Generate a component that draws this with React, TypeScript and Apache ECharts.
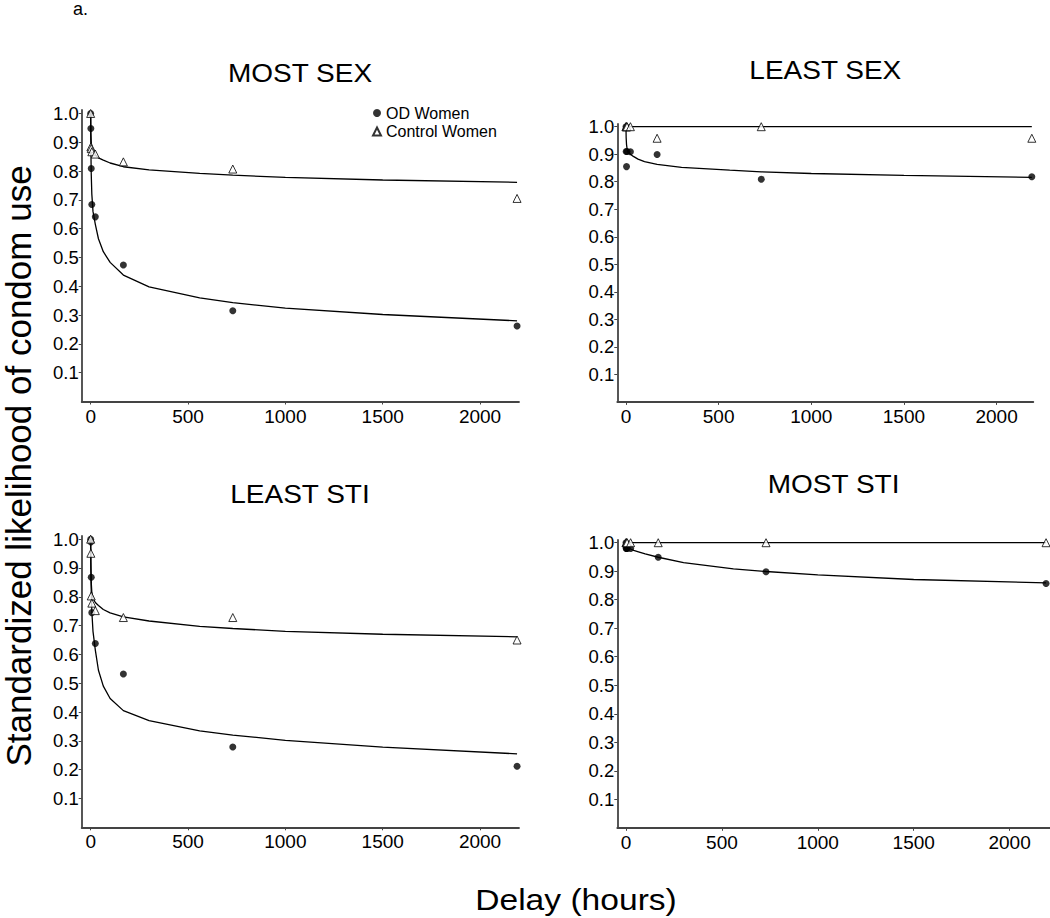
import React, { useEffect, useRef } from "react";
import * as echarts from "echarts";

// ---------- data ----------
const delays = [0, 1, 3, 6, 24, 168, 730, 2190];
const xTickValues = [0, 500, 1000, 1500, 2000];
const yTickValues = [0.1, 0.2, 0.3, 0.4, 0.5, 0.6, 0.7, 0.8, 0.9, 1.0];
const legendNames = ["OD Women", "Control Women"];
const panelTitles = ["MOST SEX", "LEAST SEX", "LEAST STI", "MOST STI"];

const mostSexOD = [1.0, 0.948, 0.809, 0.684, 0.641, 0.474, 0.315, 0.262];
const mostSexControl = [1.0, 0.884, 0.878, 0.867, 0.859, 0.832, 0.807, 0.705];
const leastSexOD = [1.0, 0.91, 0.855, 0.91, 0.909, 0.899, 0.809, 0.818];
const leastSexControl = [1.0, 1.0, 1.0, 1.0, 1.0, 0.958, 1.0, 0.958];
const leastStiOD = [1.0, 0.99, 0.868, 0.745, 0.638, 0.532, 0.279, 0.212];
const leastStiControl = [1.0, 0.951, 0.803, 0.778, 0.752, 0.728, 0.728, 0.65];
const mostStiOD = [1.0, 0.98, 0.98, 0.98, 0.98, 0.949, 0.898, 0.857];
const mostStiControl = [1.0, 1.0, 1.0, 1.0, 1.0, 1.0, 1.0, 1.0];

// fitted curves at these delays
const fitDelays = [0, 1, 3, 6, 12, 24, 40, 65, 100, 168, 300, 560, 730, 1000, 1500, 2190];
const mostSexODFit = [1.0, 0.88, 0.79, 0.72, 0.66, 0.615, 0.565, 0.52, 0.483, 0.439, 0.398, 0.36, 0.343, 0.324, 0.302, 0.28];
const mostSexControlFit = [1.0, 0.93, 0.9, 0.885, 0.87, 0.856, 0.846, 0.838, 0.828, 0.815, 0.804, 0.792, 0.786, 0.778, 0.769, 0.761];
const leastSexODFit = [1.0, 0.96, 0.935, 0.92, 0.91, 0.9, 0.892, 0.882, 0.873, 0.863, 0.852, 0.842, 0.836, 0.83, 0.823, 0.816];
const flatFitDelays = [0, 2190];
const leastSexControlFit = [1.0, 1.0];
const leastStiODFit = [1.0, 0.9, 0.82, 0.75, 0.68, 0.615, 0.545, 0.49, 0.447, 0.405, 0.37, 0.335, 0.32, 0.302, 0.278, 0.255];
const leastStiControlFit = [1.0, 0.92, 0.85, 0.815, 0.795, 0.78, 0.77, 0.756, 0.744, 0.73, 0.716, 0.697, 0.69, 0.68, 0.67, 0.661];
const mostStiODFit = [1.0, 0.993, 0.988, 0.985, 0.982, 0.978, 0.973, 0.968, 0.961, 0.949, 0.93, 0.908, 0.899, 0.887, 0.871, 0.859];
const mostStiControlFit = [1.0, 1.0];

const yAxisTitle = "Standardized likelihood of condom use";
const xAxisTitle = "Delay (hours)";
const figureLabel = "a.";

// ---------- layout ----------
const FONT = "'Liberation Sans', Arial, Helvetica, sans-serif";

const zip = (xs: number[], ys: number[]) => xs.map((x, i) => [x, ys[i]]);

const panels = [
  {
    title: panelTitles[0], od: mostSexOD, ctrl: mostSexControl,
    odFit: zip(fitDelays, mostSexODFit), ctrlFit: zip(fitDelays, mostSexControlFit),
    grid: { left: 81.7, top: 110, width: 437.3, height: 291.5 },
    xMin: -46, xMax: 2200, yMax: 1.012, titleX: 300, titleY: 74,
  },
  {
    title: panelTitles[1], od: leastSexOD, ctrl: leastSexControl,
    odFit: zip(fitDelays, leastSexODFit), ctrlFit: zip(flatFitDelays, leastSexControlFit),
    grid: { left: 617.3, top: 124, width: 416, height: 277.9 },
    xMin: -46.8, xMax: 2198, yMax: 1.0098, titleX: 825.3, titleY: 70.5,
  },
  {
    title: panelTitles[2], od: leastStiOD, ctrl: leastStiControl,
    odFit: zip(fitDelays, leastStiODFit), ctrlFit: zip(fitDelays, leastStiControlFit),
    grid: { left: 81.7, top: 536, width: 437.3, height: 291.3 },
    xMin: -46, xMax: 2200, yMax: 1.011, titleX: 300, titleY: 494.5,
  },
  {
    title: panelTitles[3], od: mostStiOD, ctrl: mostStiControl,
    odFit: zip(fitDelays, mostStiODFit), ctrlFit: zip(flatFitDelays, mostStiControlFit),
    grid: { left: 617.3, top: 540, width: 432.7, height: 287.8 },
    xMin: -45.4, xMax: 2210.6, yMax: 1.0095, titleX: 833.6, titleY: 484.5,
  },
];

const AXIS_COLOR = "#444";
const TEXT_COLOR = "#000";
const STRETCH = 1.12;

function buildOption() {
  const grid = panels.map((p) => ({ ...p.grid, containLabel: false }));
  const xAxis = panels.map((p, i) => ({
    type: "value",
    gridIndex: i,
    min: p.xMin,
    max: p.xMax,
    splitLine: { show: false },
    axisLine: { show: true, onZero: false, lineStyle: { color: AXIS_COLOR, width: 1.8 } },
    axisTick: { show: true, length: 3, customValues: xTickValues, lineStyle: { color: AXIS_COLOR, width: 1 } },
    axisLabel: {
      show: true,
      customValues: xTickValues,
      margin: 5,
      color: TEXT_COLOR,
      fontSize: 19,
      fontFamily: FONT,
      formatter: (v: number) => String(v),
    },
  }));
  const yAxis = panels.map((p, i) => ({
    type: "value",
    gridIndex: i,
    min: 0,
    max: p.yMax,
    splitLine: { show: false },
    axisLine: { show: true, onZero: false, lineStyle: { color: AXIS_COLOR, width: 1.8 } },
    axisTick: { show: true, length: 3, customValues: yTickValues, lineStyle: { color: AXIS_COLOR, width: 1 } },
    axisLabel: {
      show: true,
      customValues: yTickValues,
      margin: 3,
      color: TEXT_COLOR,
      fontSize: 18.5,
      fontFamily: FONT,
      formatter: (v: number) => v.toFixed(1),
    },
  }));

  const series: any[] = [];
  panels.forEach((p, i) => {
    series.push({
      type: "line", name: "OD fit", xAxisIndex: i, yAxisIndex: i,
      data: p.odFit, showSymbol: false, smooth: false,
      lineStyle: { color: "#000", width: 1.3 }, z: 2,
    });
    series.push({
      type: "line", name: "Control fit", xAxisIndex: i, yAxisIndex: i,
      data: p.ctrlFit, showSymbol: false, smooth: false,
      lineStyle: { color: "#000", width: 1.3 }, z: 2,
    });
    series.push({
      type: "scatter", name: legendNames[0], xAxisIndex: i, yAxisIndex: i,
      data: zip(delays, p.od), symbol: "circle", symbolSize: 7,
      itemStyle: { color: "#000" }, z: 3,
    });
    series.push({
      type: "scatter", name: legendNames[1], xAxisIndex: i, yAxisIndex: i,
      data: zip(delays, p.ctrl), symbol: "triangle", symbolSize: 8,
      itemStyle: { color: "#fff", borderColor: "#000", borderWidth: 1 }, z: 4,
    });
  });

  const graphicTexts: any[] = panels.map((p) => ({
    type: "text",
    x: p.titleX,
    y: p.titleY,
    scaleX: STRETCH,
    style: {
      text: p.title,
      font: `25px ${FONT}`,
      fill: TEXT_COLOR,
      align: "center",
      verticalAlign: "middle",
    },
  }));
  graphicTexts.push({
    type: "text", x: 73, y: 0,
    style: { text: figureLabel, font: `18px ${FONT}`, fill: TEXT_COLOR, align: "left", verticalAlign: "top" },
  });
  graphicTexts.push({
    type: "text", x: 576, y: 900, scaleX: STRETCH,
    style: { text: xAxisTitle, font: `30px ${FONT}`, fill: TEXT_COLOR, align: "center", verticalAlign: "middle" },
  });
  graphicTexts.push({
    type: "text", x: 18, y: 466, rotation: Math.PI / 2,
    style: { text: yAxisTitle, font: `35px ${FONT}`, fill: TEXT_COLOR, align: "center", verticalAlign: "middle" },
  });

  return {
    animation: false,
    backgroundColor: "#fff",
    textStyle: { fontFamily: FONT },
    grid,
    xAxis,
    yAxis,
    legend: {
      show: true,
      data: legendNames,
      orient: "vertical",
      left: 372,
      top: 105,
      padding: 0,
      itemGap: 2.5,
      itemWidth: 8,
      itemHeight: 8,
      textStyle: { fontSize: 16, color: TEXT_COLOR, fontFamily: FONT },
      selectedMode: false,
    },
    series,
    graphic: graphicTexts,
  };
}

export default function App() {
  const ref = useRef<HTMLDivElement>(null);
  useEffect(() => {
    if (!ref.current) return;
    const chart = echarts.init(ref.current, undefined, { renderer: "svg" });
    chart.setOption(buildOption() as any);
    return () => chart.dispose();
  }, []);
  return (
    <div
      ref={ref}
      style={{ position: "absolute", left: 0, top: 0, width: 1050, height: 918, background: "#fff" }}
    />
  );
}
